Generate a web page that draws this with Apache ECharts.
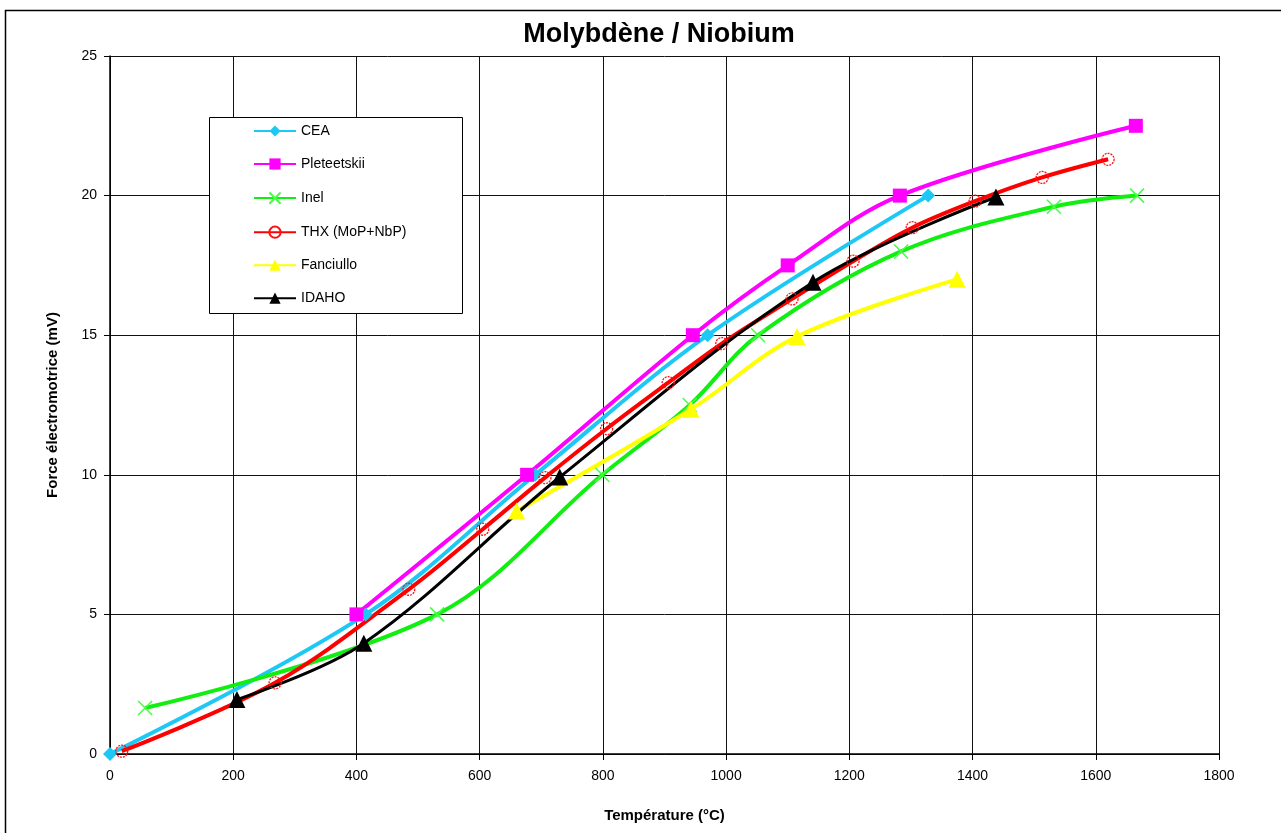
<!DOCTYPE html>
<html>
<head>
<meta charset="utf-8">
<script src="https://cdn.jsdelivr.net/npm/echarts@6/dist/echarts.min.js"></script>
<style>html,body{margin:0;padding:0;background:#fff}#c{width:1281px;height:833px}</style>
</head>
<body>
<div id="c"></div>
<script>
const xTicks = [0, 200, 400, 600, 800, 1000, 1200, 1400, 1600, 1800];
const yTicks = [0, 5, 10, 15, 20, 25];
const seriesNames = ['CEA', 'Pleteetskii', 'Inel', 'THX (MoP+NbP)', 'Fanciullo', 'IDAHO'];
const cea = [[0,0],[415,5],[690,10],[970,15],[1328,20]];
const pleteetskii = [[400,5],[677,10],[946,15],[1100,17.5],[1282,20],[1665,22.5]];
const inel = [[57,1.65],[531,5],[799,10],[941,12.5],[1052,15],[1284,18],[1532,19.6],[1667,20]];
const thx = [[19,0.1],[268,2.55],[485,5.9],[605,8.05],[706,9.9],[806,11.65],[906,13.3],[993,14.7],[1107,16.3],[1206,17.65],[1302,18.85],[1404,19.8],[1513,20.65],[1620,21.3]];
const fanciullo = [[660,8.7],[943,12.35],[1115,14.95],[1375,17.0]];
const idaho = [[206,1.95],[412,3.97],[730,9.92],[1141,16.9],[1438,19.95]];

const FONT = '"Liberation Sans", Arial, sans-serif';
const xPath = 'path://M0,0L10,10M10,0L0,10';

function mk(name, data, color, symbol, size, lw, extra) {
  return Object.assign({
    name, type: 'line', data, smooth: 0.35,
    symbol, symbolSize: size,
    lineStyle: { color, width: lw },
    itemStyle: { color },
    emphasis: { disabled: true },
    animation: false
  }, extra || {});
}

const chart = echarts.init(document.getElementById('c'));
chart.setOption({
  backgroundColor: '#fff',
  animation: false,
  title: {
    text: 'Molybdène / Niobium', left: 654, top: 16, textAlign: 'center',
    textStyle: { fontFamily: FONT, fontSize: 27, fontWeight: 'bold', color: '#000' }
  },
  graphic: [
    { type: 'rect', z: 0, shape: { x: 5.5, y: 10.5, width: 1400, height: 900 }, style: { fill: 'none', stroke: '#000', lineWidth: 1.5 } },
    { type: 'rect', z: 3, shape: { x: 209.5, y: 117.5, width: 253, height: 196 }, style: { fill: '#fff', stroke: '#000', lineWidth: 1 } }
  ],
  legend: {
    orient: 'vertical', left: 253, top: 124, padding: 0, z: 5,
    itemWidth: 42, itemHeight: 14, itemGap: 19,
    data: seriesNames,
    textStyle: { fontFamily: FONT, fontSize: 14, color: '#000' }
  },
  grid: { left: 110, right: 62, top: 56, bottom: 79, containLabel: false },
  xAxis: {
    type: 'value', min: xTicks[0], max: xTicks[xTicks.length - 1], interval: 200,
    name: 'Température (°C)', nameLocation: 'middle', nameGap: 54,
    nameTextStyle: { fontFamily: FONT, fontSize: 15, fontWeight: 'bold', color: '#000' },
    axisLine: { lineStyle: { color: '#000', width: 1.5 } },
    axisTick: { show: true, inside: false, length: 6, lineStyle: { color: '#000' } },
    axisLabel: { margin: 15, fontFamily: FONT, fontSize: 14, color: '#000', formatter: v => String(v) },
    splitLine: { show: true, lineStyle: { color: '#111', width: 1 } }
  },
  yAxis: {
    type: 'value', min: yTicks[0], max: yTicks[yTicks.length - 1], interval: 5,
    name: 'Force électromotrice (mV)', nameLocation: 'middle', nameGap: 50,
    nameTextStyle: { fontFamily: FONT, fontSize: 15, fontWeight: 'bold', color: '#000' },
    axisLine: { show: true, lineStyle: { color: '#000', width: 1.5 } },
    axisTick: { show: true, inside: false, length: 6, lineStyle: { color: '#000' } },
    axisLabel: { margin: 13, fontFamily: FONT, fontSize: 14, color: '#000', formatter: v => String(v) },
    splitLine: { show: true, lineStyle: { color: '#111', width: 1 } }
  },
  series: [
    mk(seriesNames[0], cea, '#1ec8f5', 'diamond', 14, 4),
    mk(seriesNames[1], pleteetskii, '#ff00ff', 'rect', 14, 4),
    mk(seriesNames[2], inel, '#11ee11', xPath, 14, 4, {
      itemStyle: { color: 'none', borderColor: '#44ff44', borderWidth: 1.5 }
    }),
    mk(seriesNames[3], thx, '#ff0000', 'circle', 12, 4, {
      itemStyle: { color: 'rgba(255,255,255,0)', borderColor: '#ff1111', borderWidth: 1.3, borderType: [2, 1] }
    }),
    mk(seriesNames[4], fanciullo, '#ffff00', 'triangle', 17, 4),
    mk(seriesNames[5], idaho, '#000000', 'triangle', 17, 3)
  ]
});
</script>
</body>
</html>
